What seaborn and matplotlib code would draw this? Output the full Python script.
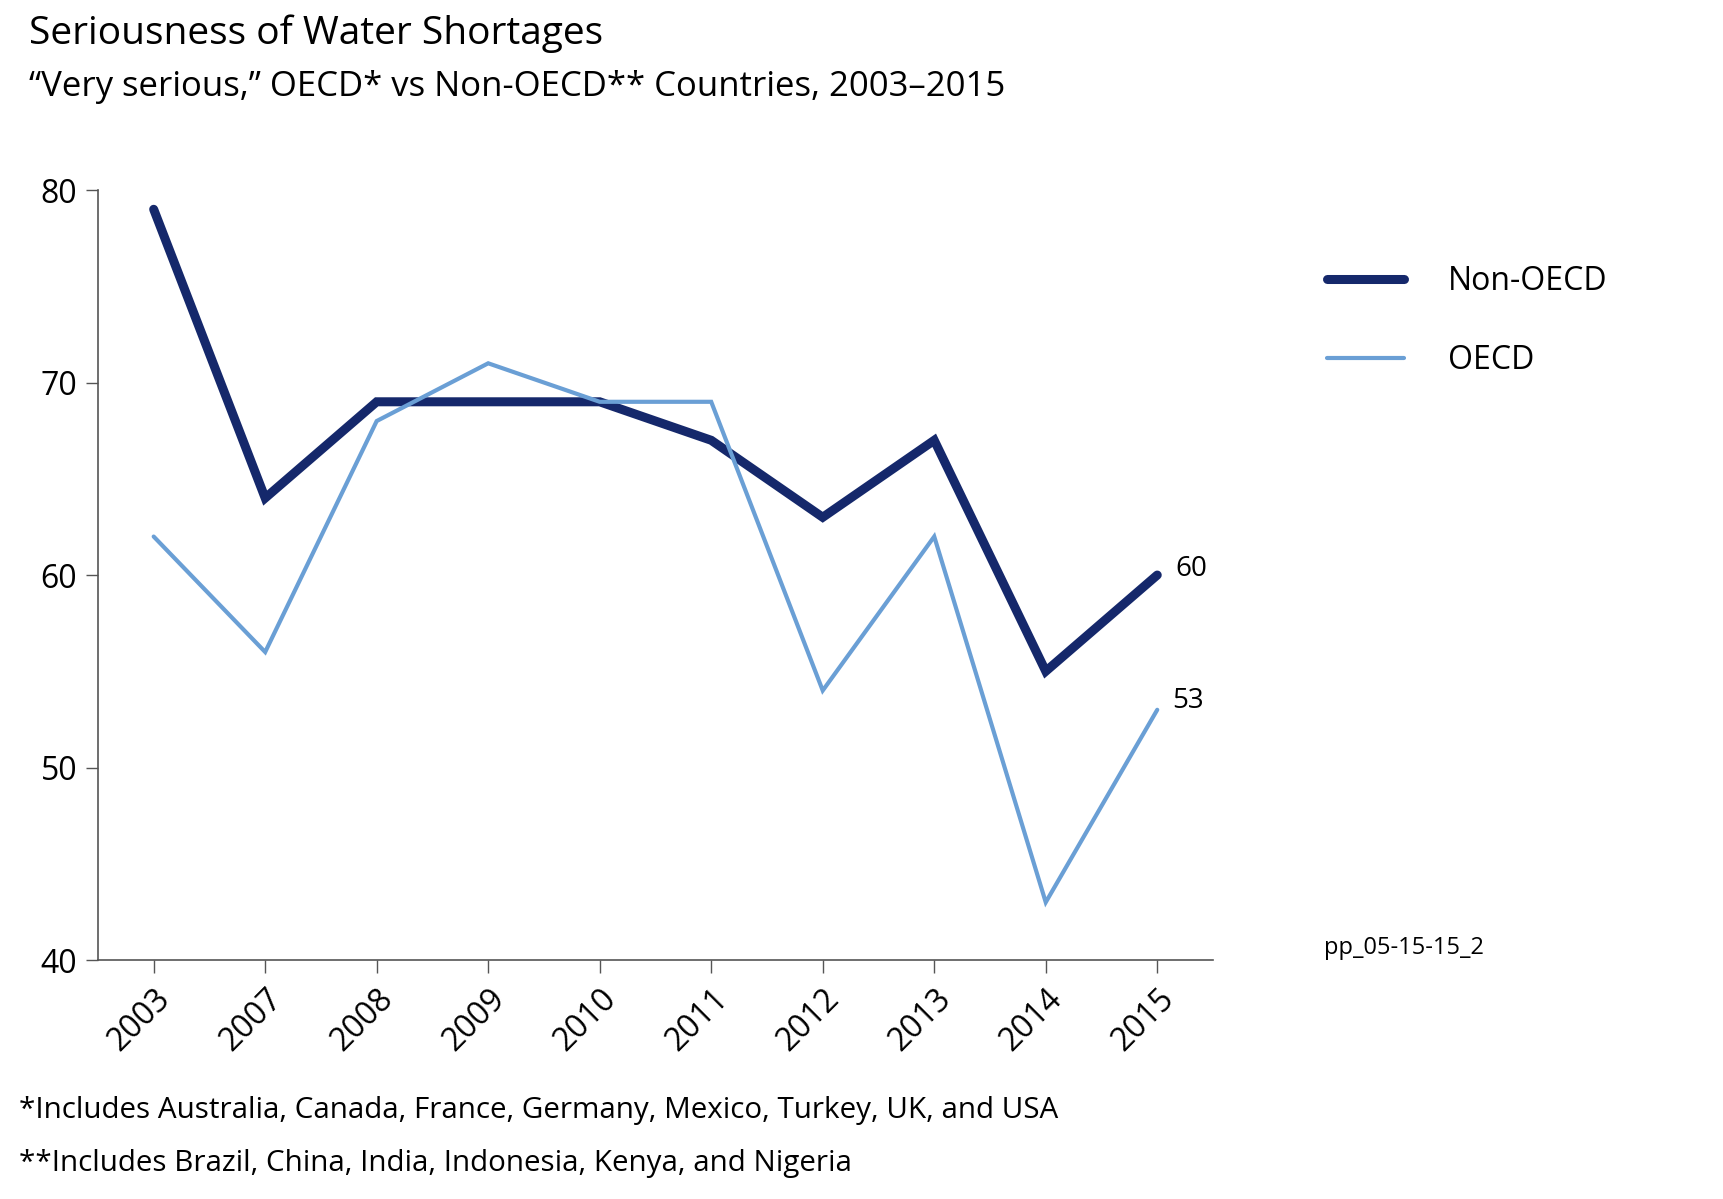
import matplotlib
matplotlib.use("Agg")
import matplotlib.pyplot as plt
import seaborn as sns
import pandas as pd
from matplotlib.lines import Line2D

years = ["2003", "2007", "2008", "2009", "2010", "2011", "2012", "2013", "2014", "2015"]
non_oecd = [79, 64, 69, 69, 69, 67, 63, 67, 55, 60]
oecd = [62, 56, 68, 71, 69, 69, 54, 62, 43, 53]
series_names = ["Non-OECD", "OECD"]
y_ticks = [40, 50, 60, 70, 80]

sns.set_theme(style="white")
plt.rcParams["font.family"] = ["Open Sans", "DejaVu Sans"]
plt.rcParams["text.color"] = "black"

df = pd.DataFrame({
    "Year": years * 2,
    "Value": non_oecd + oecd,
    "Series": [series_names[0]] * len(years) + [series_names[1]] * len(years),
})

navy = "#15286b"
light = "#6a9fd5"
palette = {series_names[0]: navy, series_names[1]: light}

fig = plt.figure(figsize=(17.24, 11.99), dpi=100)
ax = fig.add_axes([0.0568, 0.1993, 0.6468, 0.6422])

sns.lineplot(data=df, x="Year", y="Value", hue="Series", palette=palette,
             hue_order=series_names, sort=False, legend=False, ax=ax)
lines = ax.get_lines()
lines[0].set_linewidth(6.5)
lines[0].set_solid_capstyle("round")
lines[0].set_solid_joinstyle("miter")
lines[1].set_linewidth(3.0)
lines[1].set_solid_joinstyle("miter")

ax.set_xlim(-0.5, len(years) - 0.5)
ax.set_ylim(40, 80)
ax.set_yticks(y_ticks)
ax.set_xlabel("")
ax.set_ylabel("")
for s in ["top", "right"]:
    ax.spines[s].set_visible(False)
for s in ["left", "bottom"]:
    ax.spines[s].set_color("#555555")
    ax.spines[s].set_linewidth(1.2)
ax.tick_params(axis="both", which="both", direction="out", length=9, width=1.0,
               color="#555555", labelsize=23, labelcolor="black",
               bottom=True, left=True)
ax.tick_params(axis="x", pad=7)
plt.setp(ax.get_xticklabels(), rotation=45, ha="right", rotation_mode="anchor")
ax.tick_params(axis="y", pad=6)

# end labels
ax.annotate(str(non_oecd[-1]), xy=(len(years) - 1, non_oecd[-1]), xytext=(13, 4),
            textcoords="offset points", fontsize=20, va="center", ha="left")
ax.annotate(str(oecd[-1]), xy=(len(years) - 1, oecd[-1]), xytext=(11, 6),
            textcoords="offset points", fontsize=20, va="center", ha="left")

# legend (manual)
handles = [Line2D([], [], color=navy, lw=6.5), Line2D([], [], color=light, lw=3.0)]
fig.legend(handles, series_names, loc="upper left", bbox_to_anchor=(0.753, 0.803),
           frameon=False, fontsize=23, handlelength=2.4, handletextpad=1.4,
           labelspacing=1.45)

fig.text(0.017, 0.988, "Seriousness of Water Shortages", fontsize=28, va="top", ha="left")
fig.text(0.017, 0.942, "\u201cVery serious,\u201d OECD* vs Non-OECD** Countries, 2003\u20132015",
         fontsize=25, va="top", ha="left")
fig.text(0.768, 0.209, "pp_05-15-15_2", fontsize=17, va="center", ha="left")
fig.text(0.011, 0.074, "*Includes Australia, Canada, France, Germany, Mexico, Turkey, UK, and USA",
         fontsize=21.3, va="center", ha="left")
fig.text(0.011, 0.030, "**Includes Brazil, China, India, Indonesia, Kenya, and Nigeria",
         fontsize=21.3, va="center", ha="left")

fig.savefig("out.png", dpi=100, facecolor="white")
